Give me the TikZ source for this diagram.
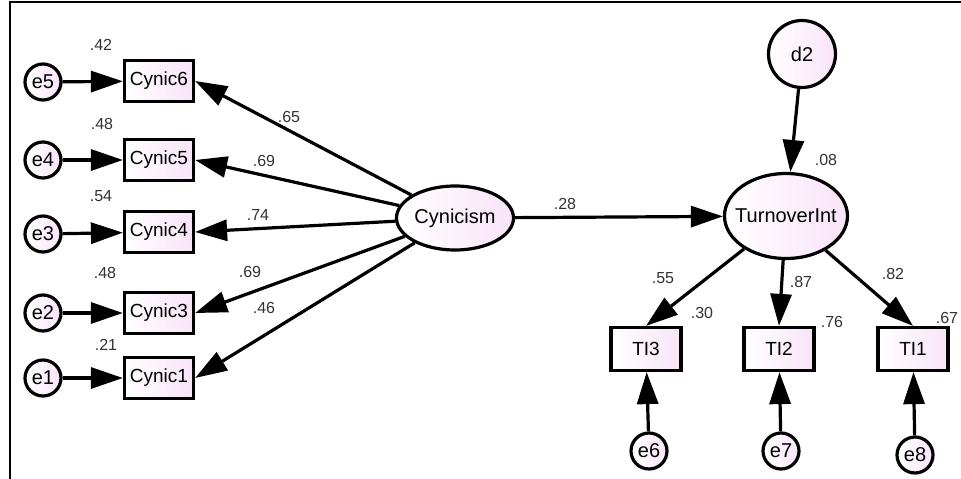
\documentclass[tikz,border=0pt]{standalone}
\usepackage{fontspec}
\setmainfont{Liberation Sans}
\usetikzlibrary{arrows.meta,shapes.geometric}
\definecolor{varfill}{RGB}{248,228,248}
\definecolor{numgray}{RGB}{50,50,50}

\begin{document}
\begin{tikzpicture}[x=1pt,y=-1pt]
\tikzset{obs/.style = {draw, line width=3.2pt, rectangle, minimum width=69pt, minimum height=41pt,
    left color=white, right color=varfill, font=\fontsize{19}{19}\selectfont},
  lat/.style = {draw, line width=3.2pt, ellipse, inner xsep=-16pt, inner ysep=0pt,
    left color=white, right color=varfill, font=\fontsize{20}{20}\selectfont},
  err/.style = {draw, line width=3.2pt, circle, inner sep=0pt, minimum size=36pt,
    left color=white, right color=varfill, font=\fontsize{20}{20}\selectfont},
  reg/.style = {-{Triangle[length=32pt,width=21pt]}, line width=3.2pt},
  num/.style = {text=numgray, inner sep=0pt, font=\fontsize{16}{16}\selectfont}}
\useasboundingbox (0,0) rectangle (961,479);
\draw[line width=2.2pt] (961,2) -- (10,2) -- (10,479);
% indicators of Cynicism
\foreach \e/\c/\t/\ey/\cy in {e5/c6/Cynic6/82/81, e4/c5/Cynic5/160/160, e3/c4/Cynic4/234/232,
    e2/c3/Cynic3/313/313, e1/c1/Cynic1/378/378}
{
  \node[err] (\e) at (43,\ey) {\e};
  \node[obs] (\c) at (159,\cy) {\t};
  \draw[reg] (\e) -- (\c);
}
\node[lat, minimum width=117pt, minimum height=64pt] (cyn) at (455,218) {Cynicism};
\node[lat, minimum width=123pt, minimum height=85pt] (turn) at (786,216) {TurnoverInt};
\node[err, minimum size=67pt] (d2) at (802,54) {d2};
\foreach \c/\t/\cx in {ti3/TI3/646, ti2/TI2/779, ti1/TI1/913}
  \node[obs, minimum width=70pt, minimum height=43pt] (\c) at (\cx,349) {\t};
\node[err] (e6) at (649,451) {e6};
\node[err] (e7) at (781,451) {e7};
\node[err] (e8) at (915,455) {e8};
\foreach \c in {c6,c5,c4,c3,c1}
  \draw[reg] (cyn) -- (\c.east);
\draw[reg] (cyn) -- (turn);
\draw[reg] (d2) -- (turn);
\foreach \c in {ti3,ti2,ti1}
  \draw[reg] (turn) -- (\c.north);
\draw[reg] (e6) -- (ti3);
\draw[reg] (e7) -- (ti2);
\draw[reg] (e8) -- (ti1);
% estimates
\node[num] (r6) at (101,45) {.42};
\node[num] (r5) at (102,124) {.48};
\node[num] (r4) at (101,196) {.54};
\node[num] (r3) at (105,273) {.48};
\node[num] (r1) at (106,345) {.21};
\node[num] (w6) at (289,117) {.65};
\node[num] (w5) at (264,161) {.69};
\node[num] (w4) at (258,215) {.74};
\node[num] (w3) at (250,272) {.69};
\node[num] (w1) at (264,308) {.46};
\node[num] (wt) at (565,204) {.28};
\node[num] (rt) at (826,160) {.08};
\node[num] (w13) at (663,278) {.55};
\node[num] (w12) at (801,282) {.87};
\node[num] (w11) at (893,274) {.82};
\node[num] (r13) at (702,313) {.30};
\node[num] (r12) at (832,322) {.76};
\node[num] (r11) at (947,318) {.67};
\end{tikzpicture}
\end{document}
